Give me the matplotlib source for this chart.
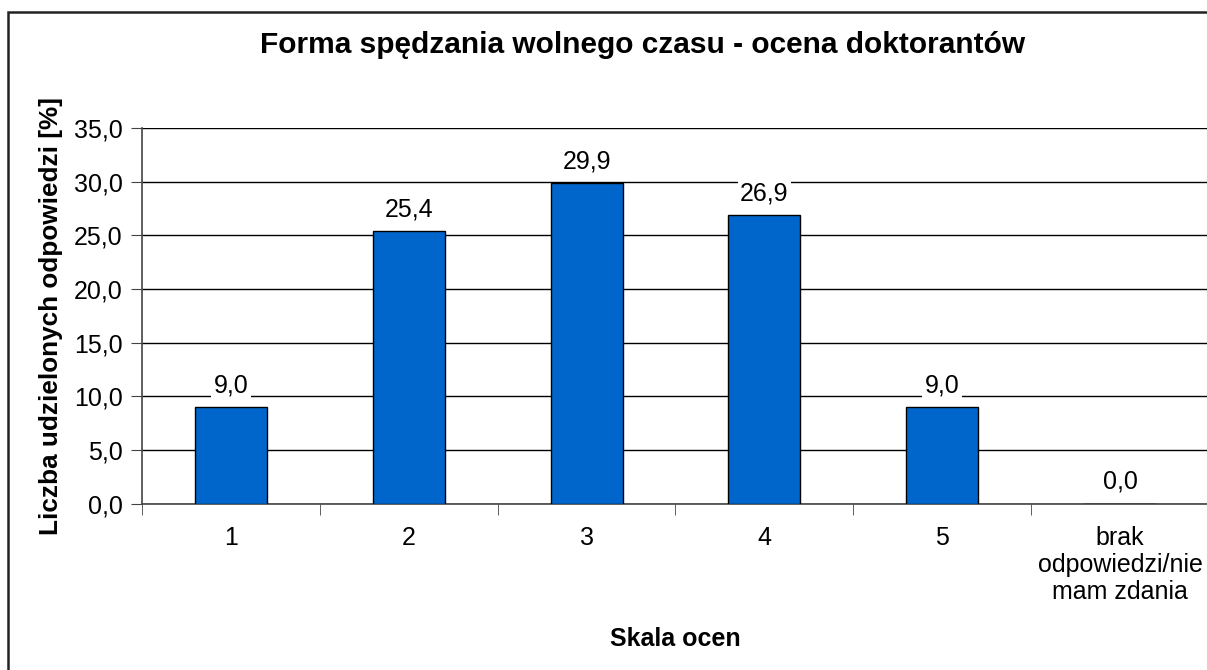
import matplotlib
matplotlib.use("Agg")
import matplotlib.pyplot as plt
import numpy as np
from matplotlib.patches import Rectangle

# data
categories = ["1", "2", "3", "4", "5", "brak\nodpowiedzi/nie\nmam zdania"]
values = [9.0, 25.4, 29.9, 26.9, 9.0, 0.0]
yticks = [0, 5, 10, 15, 20, 25, 30, 35]

plt.rcParams['font.family'] = ['Liberation Sans', 'DejaVu Sans']

fig = plt.figure(figsize=(12.07, 6.70), dpi=100)
ax = fig.add_axes([142 / 1207, 1 - 503.7 / 670, (1209 - 142) / 1207, (503.7 - 128) / 670])

x = np.arange(len(categories))
ax.bar(x, values, width=0.405, color="#0066CC", edgecolor="black", linewidth=1, zorder=3)

# value labels with white box that hides the grid line behind them
for xi, v in zip(x, values):
    ax.annotate(f"{v:.1f}".replace(".", ","), (xi, v), xytext=(0, 7),
                textcoords="offset points", ha="center", va="bottom", fontsize=18,
                bbox=dict(boxstyle="square,pad=0.1", fc="white", ec="none"), zorder=4)

ax.set_xlim(-0.5, len(categories) - 0.5)
ax.set_ylim(0, 35)
ax.set_yticks(yticks)
ax.set_yticklabels([f"{t:.1f}".replace(".", ",") for t in yticks], fontsize=18)
ax.set_xticks(x)
ax.set_xticklabels(categories, fontsize=18, linespacing=1.17)
ax.set_xticks(np.arange(len(categories) + 1) - 0.5, minor=True)
ax.tick_params(axis="x", which="major", length=0, pad=16)
ax.tick_params(axis="x", which="minor", length=8, direction="out", color="#444444")
ax.tick_params(axis="y", length=8, direction="out", color="#444444", pad=6)

ax.grid(axis="y", color="black", linewidth=1, zorder=0)
ax.set_axisbelow(True)
for s in ["top", "right"]:
    ax.spines[s].set_visible(False)
for s in ["left", "bottom"]:
    ax.spines[s].set_color("#444444")
    ax.spines[s].set_linewidth(1.2)

ax.set_ylabel("Liczba udzielonych odpowiedzi [%]", fontsize=18.8, fontweight="bold", labelpad=8)
ax.set_xlabel("Skala ocen", fontsize=18, fontweight="bold", labelpad=16)

fig.text(643 / 1207, 1 - 45 / 670, "Forma spędzania wolnego czasu - ocena doktorantów",
         ha="center", va="center", fontsize=21.5, fontweight="bold")

# chart area frame (cropped on right and bottom)
fig.patches.append(Rectangle((8 / 1207, -0.1), 1.2, 1 - 12 / 670 + 0.1,
                             transform=fig.transFigure, fill=False,
                             edgecolor="#222222", linewidth=1.8, clip_on=False))

fig.savefig("out.png", dpi=100)
